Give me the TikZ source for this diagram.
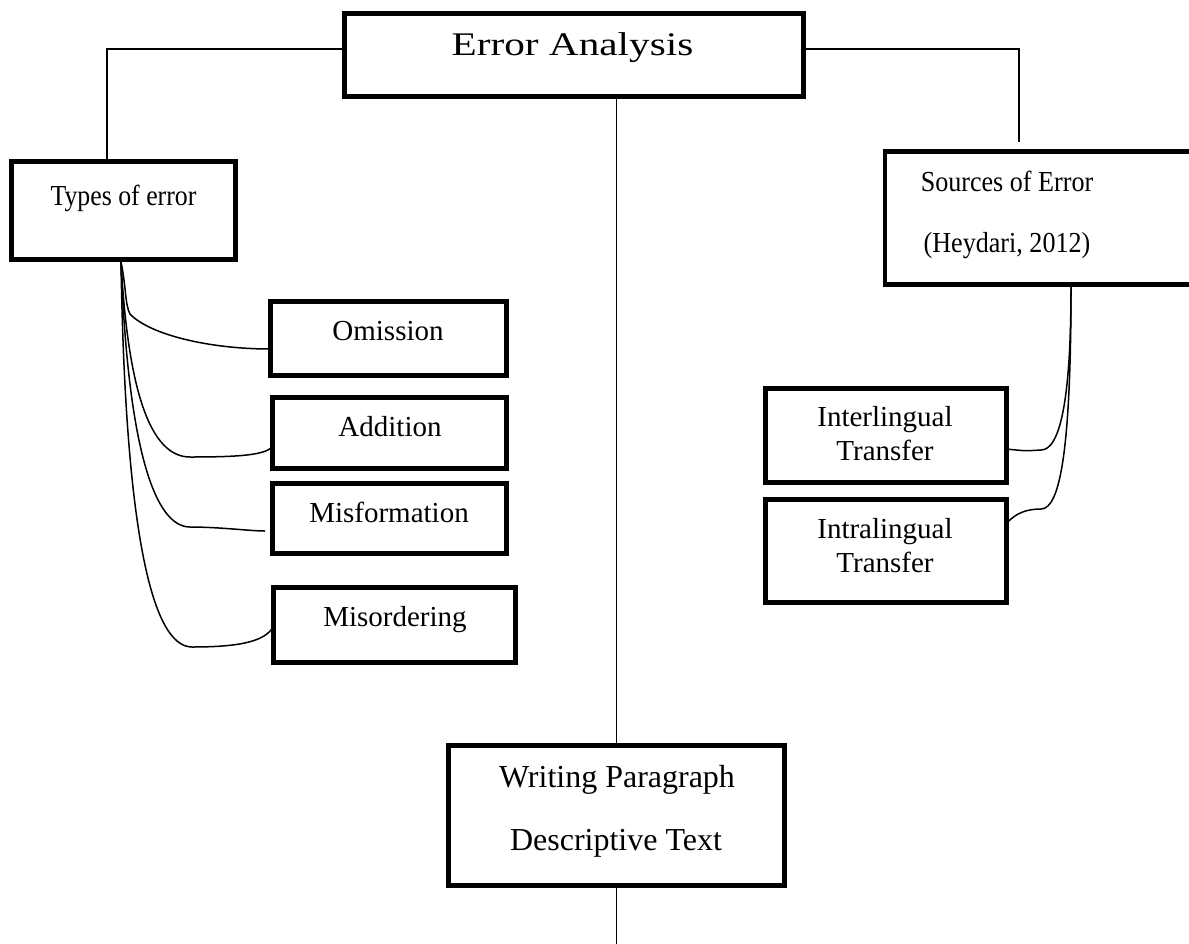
\documentclass[tikz,border=0pt]{standalone}
\usepackage{fontspec}
\setmainfont{Liberation Serif}
\usepackage{graphicx}
\begin{document}
\begin{tikzpicture}[x=1pt,y=-1pt,
  box/.style={draw, rectangle, line width=4.6pt, inner sep=0pt, outer sep=0pt},
  conn/.style={line width=1.3pt},
  curvy/.style={line width=1.5pt},
  lbl/.style={anchor=base, inner sep=0pt, font=\fontsize{29}{34}\selectfont},
  big/.style={lbl, font=\fontsize{32}{38}\selectfont}]
\useasboundingbox (0,0) rectangle (1189,943);
\clip (0,0) rectangle (1189,943);
\fill[white] (0,0) rectangle (1189,943);

% boxes
\node[box, minimum width=459.4pt, minimum height=83.4pt] (ea) at (574,55) {};
\node[box, minimum width=224.4pt, minimum height=98.4pt] (types) at (123.5,210.5) {};
\node[box, minimum width=327pt, minimum height=133.4pt] (src) at (1048.6,218) {};
\node[box, minimum width=236.4pt, minimum height=74.4pt] (om) at (388.5,338.5) {};
\node[box, minimum width=234.4pt, minimum height=71.4pt] (add) at (389.5,433) {};
\node[box, minimum width=234.4pt, minimum height=70.4pt] (misf) at (389.5,518.5) {};
\node[box, minimum width=242.4pt, minimum height=75.4pt] (miso) at (394.5,625) {};
\node[box, minimum width=241.4pt, minimum height=94.4pt] (inter) at (886,435.5) {};
\node[box, minimum width=241.4pt, minimum height=103.4pt] (intra) at (886,551) {};
\node[box, minimum width=336.4pt, minimum height=140.4pt] (wr) at (616.5,815.5) {};

% texts
\node[lbl, font=\fontsize{33}{38}\selectfont] (eat) at (572.5,55) {\scalebox{1.25}[1]{Error Analysis}};
\node[lbl] (typest) at (123.5,205) {\scalebox{0.89}[1]{Types of error}};
\node[lbl] (srct1) at (1007,191) {\scalebox{0.9}[1]{Sources of Error}};
\node[lbl] (srct2) at (1007,252) {\scalebox{0.9}[1]{(Heydari, 2012)}};
\node[lbl] (omt) at (388,340) {Omission};
\node[lbl] (addt) at (390,436) {Addition};
\node[lbl] (misft) at (389,522) {Misformation};
\node[lbl] (misot) at (395,626) {Misordering};
\node[lbl] (intert1) at (885,426) {Interlingual};
\node[lbl] (intert2) at (885,460) {Transfer};
\node[lbl] (intrat1) at (885,538) {Intralingual};
\node[lbl] (intrat2) at (885,572) {Transfer};
\node[big] (wrt1) at (617,787) {Writing Paragraph};
\node[big] (wrt2) at (616,850) {Descriptive Text};

% connector ends
\coordinate (srcin) at (1019,142);
\coordinate (tb) at (121,262);
\coordinate (sb) at (1071,287);
\coordinate (bottom) at (616.5,950);
\coordinate (misfin) at (265,531);

% straight connectors
\draw[conn] ([yshift=6pt]ea.west) -| ([xshift=-16.5pt]types.north);
\draw[conn] ([yshift=6pt]ea.east) -| (srcin);
\draw[conn] (wr.north |- ea.south) -- (wr.north);
\draw[conn] (wr.south) -- (bottom);

% left curves
\draw[curvy] (tb) .. controls (126,285) and (125,305) .. (130,314)
  .. controls (150,335) and (210,349) .. ([yshift=-10.5pt]om.west);
\draw[curvy] (tb) .. controls (128,390) and (150,457) .. (190,457)
  .. controls (240,457) and (264,455) .. ([yshift=-14pt]add.west);
\draw[curvy] (tb) .. controls (128,450) and (155,527) .. (190,527)
  .. controls (220,527) and (250,531) .. (misfin);
\draw[curvy] (tb) .. controls (125,520) and (150,647) .. (192,647)
  .. controls (245,647) and (265,640) .. ([yshift=-2pt]miso.west);

% right curves
\draw[curvy] (sb) .. controls (1071,400) and (1060,450) .. (1041,450)
  .. controls (1025,451) .. ([yshift=-13.5pt]inter.east);
\draw[curvy] (sb) .. controls (1071,450) and (1060,509) .. (1041,509)
  .. controls (1020,509) and (1012,518) .. ([yshift=28pt]intra.east);
\end{tikzpicture}
\end{document}
